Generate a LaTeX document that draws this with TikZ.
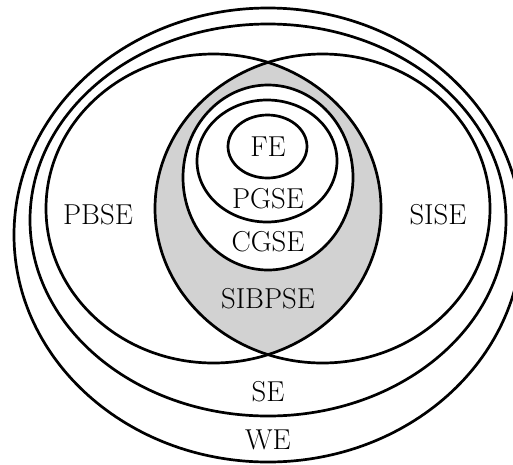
\documentclass[tikz,border=0pt]{standalone}
\begin{document}
\begin{tikzpicture}[x=1pt,y=-1pt,line width=2.7pt,
  lbl/.style={font=\fontsize{28.8}{34}\selectfont, inner sep=0pt, anchor=center},
  shade/.style={fill=gray!35}]
\useasboundingbox (0,0) rectangle (513,464);
% intersection of PBSE and SISE
\begin{scope}
  \clip (213.5,208.5) ellipse [x radius=167.5, y radius=154.5];
  \fill[shade] (322.5,208.5) ellipse [x radius=167.5, y radius=154.5];
\end{scope}
\fill[white] (268,177.5) ellipse [x radius=85, y radius=92.5];
% outlines
\draw (268,235) ellipse [x radius=254, y radius=227];     % WE
\draw (268,220) ellipse [x radius=238, y radius=196];     % SE
\draw (213.5,208.5) ellipse [x radius=167.5, y radius=154.5]; % PBSE
\draw (322.5,208.5) ellipse [x radius=167.5, y radius=154.5]; % SISE
\draw (268,177.5) ellipse [x radius=85, y radius=92.5];   % CGSE
\draw (267,161) ellipse [x radius=70, y radius=61];       % PGSE
\draw (267.5,146.5) ellipse [x radius=39.5, y radius=31.5]; % FE
% labels
\node[lbl] (fe) at (268,147) {FE};
\node[lbl] (pgse) at (268,199) {PGSE};
\node[lbl] (cgse) at (268,242) {CGSE};
\node[lbl] (sibpse) at (268,299) {SIBPSE};
\node[lbl] (pbse) at (98,215) {PBSE};
\node[lbl] (sise) at (438,215) {SISE};
\node[lbl] (se) at (268,392) {SE};
\node[lbl] (we) at (268,440) {WE};
\end{tikzpicture}
\end{document}
